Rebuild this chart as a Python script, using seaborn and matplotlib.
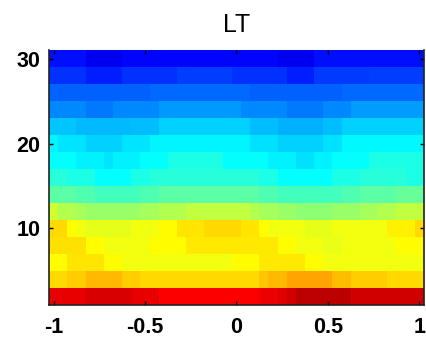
import numpy as np
import pandas as pd
import matplotlib
matplotlib.use('Agg')
import matplotlib.pyplot as plt
from matplotlib.colors import LinearSegmentedColormap
import seaborn as sns

# x positions of the columns (-1 .. 1, step 0.05) and row centres (2 .. 30)
x_vals = np.round(np.arange(-1, 1.0001, 0.05), 2)
y_vals = [30, 28, 26, 24, 22, 20, 18, 16, 14, 12, 10, 8, 6, 4, 2]

# each row as (jet position 0-100, number of columns)
row_30 = [(14, 4), (11, 4), (13, 17), (11, 4), (14, 12)]
row_28 = [(17.5, 4), (15.5, 4), (17.5, 6), (18.5, 6), (17.5, 6), (15.5, 3), (18, 6), (18.5, 6)]
row_26 = [(22.5, 1), (22, 10), (23, 11), (22, 10), (23, 9)]
row_24 = [(26, 4), (24.5, 3), (26, 5), (27.5, 9), (26, 5), (24.5, 4), (26, 3), (28, 8)]
row_22 = [(32, 3), (30.5, 6), (31, 3), (33, 10), (31, 3), (30, 5), (31, 2), (33, 9)]
row_20 = [(36.5, 1), (35, 3), (33, 4), (35, 3), (36.5, 11), (34.5, 3), (33, 5), (34.5, 2), (37, 9)]
row_18 = [(37.5, 3), (36.25, 3), (35, 1), (36.25, 3), (37.5, 3), (40, 6), (37.5, 5), (36.25, 3),
          (34.5, 2), (36.25, 2), (37.5, 4), (40, 6)]
row_16 = [(41.25, 2), (40, 3), (37.5, 4), (40, 2), (41.25, 12), (40, 2), (37.5, 6), (40, 3),
          (41.25, 5), (40, 2)]
row_14 = [(46.25, 3), (45, 2), (43.75, 5), (45, 2), (46.25, 11), (45, 2), (43.75, 7), (45, 2),
          (46.25, 4), (47.5, 3)]
row_12 = [(57.5, 1), (55, 2), (53.75, 1), (52.5, 6), (53.75, 2), (55, 3), (56.25, 7), (55, 1),
          (53.75, 2), (52.5, 2), (51.25, 4), (52.5, 3), (53.75, 2), (55, 2), (56.25, 3)]
row_10 = [(66.25, 2), (62.5, 1), (61.25, 1), (60, 5), (61.25, 3), (62.5, 2), (65, 3), (66.25, 4),
          (65, 2), (62.5, 1), (61.25, 4), (60, 3), (61.25, 6), (63.75, 3), (66.25, 1)]
row_8 = [(65.5, 4), (62.5, 2), (61.25, 5), (62.5, 4), (64.5, 10), (62.5, 2), (61.25, 3), (60.5, 2),
         (61.25, 6), (62.5, 3)]
row_6 = [(62.5, 2), (65, 4), (62.5, 2), (61.25, 12), (62.5, 3), (64.5, 5), (62.5, 2), (61.25, 11)]
row_4 = [(66.25, 2), (67.5, 2), (69.5, 4), (67.5, 2), (66.25, 13), (68, 1), (69.5, 2), (71.25, 5),
         (68.75, 2), (67.5, 4), (66.25, 4)]
row_2 = [(89.5, 4), (91.25, 5), (89.5, 3), (87.5, 11), (89.25, 2), (90.5, 1), (92, 1), (93.75, 6),
         (92, 8)]

rows = [row_30, row_28, row_26, row_24, row_22, row_20, row_18, row_16,
        row_14, row_12, row_10, row_8, row_6, row_4, row_2]


def expand(runs):
    vals = [v for v, n in runs for _ in range(n)]
    return vals


grid = pd.DataFrame([expand(r) for r in rows], index=y_vals, columns=x_vals)

# matlab style jet (yellow at 5/8, red at 7/8)
mjet = LinearSegmentedColormap('mjet', {
    'red':   [(0, 0, 0), (0.375, 0, 0), (0.625, 1, 1), (0.875, 1, 1), (1, 0.5, 0.5)],
    'green': [(0, 0, 0), (0.125, 0, 0), (0.375, 1, 1), (0.625, 1, 1), (0.875, 0, 0), (1, 0, 0)],
    'blue':  [(0, 0.5, 0.5), (0.125, 1, 1), (0.375, 1, 1), (0.625, 0, 0), (1, 0, 0)],
}, N=256)

plt.rcParams['font.family'] = ['Liberation Sans', 'DejaVu Sans']
fig = plt.figure(figsize=(4.26, 3.41), dpi=100)
ax = fig.add_axes([0.115, 0.106, 0.88, 0.747])

sns.heatmap(grid, cmap=mjet, vmin=0, vmax=100, cbar=False, ax=ax,
            xticklabels=False, yticklabels=False)

# ticks at data positions: column i centre is at i + 0.5
xt = [-1, -0.5, 0, 0.5, 1]
ax.set_xticks([(v + 1) / 0.05 + 0.5 for v in xt])
ax.set_xticklabels(['-1', '-0.5', '0', '0.5', '1'])
yt = [10, 20, 30]
ax.set_yticks([(30 - v) / 2 + 0.5 for v in yt])
ax.set_yticklabels(['10', '20', '30'], rotation=0)

ax.tick_params(direction='in', length=3, width=1, top=True, right=True,
               labelsize=15.5, pad=6)
ax.tick_params(axis='x', pad=9)
for lab in ax.get_xticklabels() + ax.get_yticklabels():
    lab.set_fontweight('bold')

for s in ['left', 'bottom', 'right']:
    ax.spines[s].set_visible(True)
    ax.spines[s].set_color('#222222')
    ax.spines[s].set_linewidth(1.2)

ax.set_xlabel('')
ax.set_ylabel('')
ax.set_title('LT', fontsize=18, pad=13)

fig.savefig('out.png', dpi=100)
